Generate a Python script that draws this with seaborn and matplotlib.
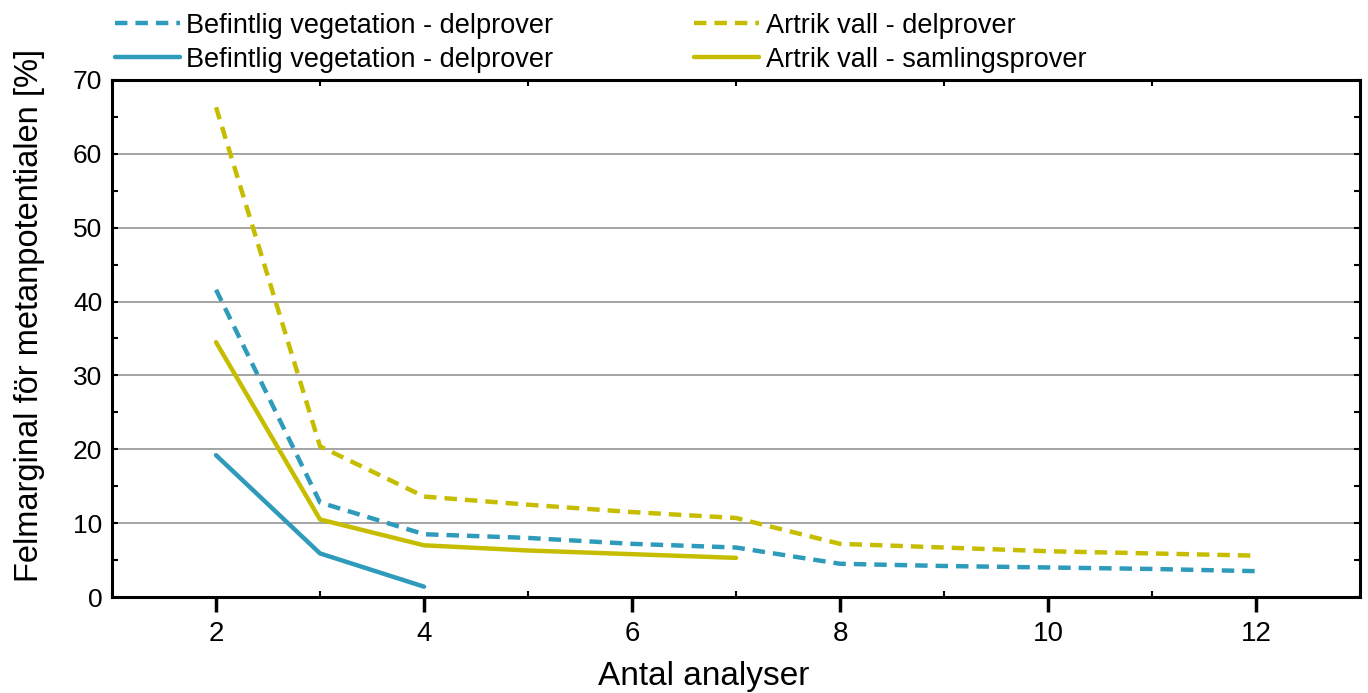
import numpy as np
import pandas as pd
import matplotlib
matplotlib.use("Agg")
import matplotlib.pyplot as plt
import seaborn as sns
from matplotlib.ticker import MultipleLocator

# ---- data ----
x_long = [2, 3, 4, 5, 6, 7, 8, 9, 10, 11, 12]
befintlig_delprover = [41.6, 12.8, 8.5, 8.0, 7.2, 6.7, 4.5, 4.2, 4.0, 3.8, 3.5]
artrik_delprover = [66.3, 20.4, 13.6, 12.5, 11.5, 10.7, 7.2, 6.7, 6.2, 5.9, 5.6]
x_befintlig_saml = [2, 3, 4]
befintlig_saml = [19.2, 5.9, 1.4]
x_artrik_saml = [2, 3, 4, 5, 6, 7]
artrik_saml = [34.5, 10.5, 7.0, 6.3, 5.8, 5.3]

labels = ["Befintlig vegetation - delprover",
          "Befintlig vegetation - delprover",
          "Artrik vall - delprover",
          "Artrik vall - samlingsprover"]
x_ticks = [2, 4, 6, 8, 10, 12]
y_ticks = [0, 10, 20, 30, 40, 50, 60, 70]

blue = "#2E9BBA"
yellow = "#C6BD00"

sns.set_theme(style="white")
plt.rcParams['font.family'] = ['Liberation Sans', 'DejaVu Sans']
plt.rcParams['text.color'] = 'black'
plt.rcParams['axes.labelcolor'] = 'black'

fig = plt.figure(figsize=(13.68, 6.93), dpi=100)
ax = fig.add_axes([0.0819, 0.1385, 0.9123, 0.7461])

dash = (2.8, 1.8)
sns.lineplot(x=x_long, y=befintlig_delprover, ax=ax, color=blue, lw=3.2,
             label=labels[0], linestyle=(0, dash))
sns.lineplot(x=x_befintlig_saml, y=befintlig_saml, ax=ax, color=blue, lw=3.2,
             label=labels[1])
sns.lineplot(x=x_long, y=artrik_delprover, ax=ax, color=yellow, lw=3.2,
             label=labels[2], linestyle=(0, dash))
sns.lineplot(x=x_artrik_saml, y=artrik_saml, ax=ax, color=yellow, lw=3.2,
             label=labels[3])

ax.set_xlim(1, 13)
ax.set_ylim(0, 70)
ax.set_xticks(x_ticks)
ax.set_yticks(y_ticks)
ax.xaxis.set_minor_locator(MultipleLocator(1))
ax.yaxis.set_minor_locator(MultipleLocator(5))

ax.grid(axis="y", which="major", color="#8c8c8c", lw=1.1)
ax.grid(axis="x", visible=False)
ax.set_axisbelow(True)

for s in ax.spines.values():
    s.set_visible(True)
    s.set_color("black")
    s.set_linewidth(2.2)

ax.tick_params(axis="x", which="major", direction="out", length=11, width=2.5,
               labelsize=20, pad=6, colors="black", top=False, bottom=True)
ax.tick_params(axis="x", which="minor", direction="in", length=4, width=1.5,
               top=True, bottom=True, colors="black")
ax.tick_params(axis="y", which="both", direction="in", length=4, width=1.5,
               right=True, left=True, colors="black")
ax.tick_params(axis="y", which="major", labelsize=19, pad=7, labelcolor="black")

ax.set_xlabel("Antal analyser", fontsize=24, color="black")
ax.set_ylabel("Felmarginal för metanpotentialen [%]", fontsize=23.5,
              color="black")
ax.xaxis.set_label_coords(0.474, -0.124)
ax.yaxis.set_label_coords(-0.054, 0.545)

leg = ax.legend(ncol=2, loc="lower left", bbox_to_anchor=(0.002, 1.014),
                frameon=False, fontsize=19.5, handlelength=2.4,
                handletextpad=0.25, columnspacing=5.2, labelspacing=0.3,
                borderaxespad=0.0, borderpad=0.0, labelcolor="black")
for h in leg.get_lines():
    h.set_linewidth(3.2)

fig.savefig("out.png", dpi=100)
